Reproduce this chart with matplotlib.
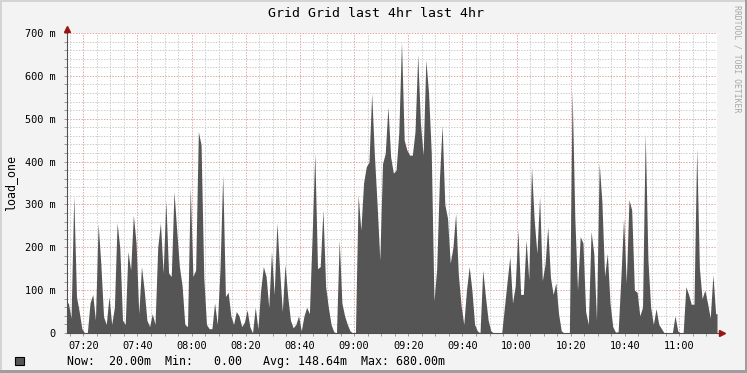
import numpy as np
import matplotlib
matplotlib.use("Agg")
import matplotlib.pyplot as plt
from matplotlib.patches import Rectangle
from matplotlib.lines import Line2D

# ---------------- data ----------------
title = "Grid Grid last 4hr last 4hr"
y_axis_label = "load_one"
start_time = "07:14"
step_minutes = 1
load_one_m = [
    70, 35, 320, 85, 50, 10, 0, 0, 70, 90,
    30, 255, 160, 38, 20, 85, 20, 60, 257, 198,
    30, 20, 190, 147, 275, 210, 45, 155, 100, 30,
    15, 45, 20, 200, 257, 140, 310, 140, 132, 330,
    240, 155, 110, 20, 15, 341, 132, 147, 470, 439,
    130, 20, 10, 10, 70, 20, 150, 369, 85, 95,
    40, 20, 50, 40, 15, 25, 54, 15, 0, 60,
    10, 100, 155, 132, 60, 190, 90, 257, 147, 50,
    160, 85, 30, 12, 20, 40, 5, 40, 60, 45,
    225, 420, 150, 155, 287, 108, 60, 20, 3, 0,
    217, 70, 40, 20, 5, 0, 0, 322, 240, 350,
    388, 399, 559, 415, 300, 170, 395, 419, 528, 411,
    373, 380, 466, 680, 450, 427, 415, 415, 470, 649,
    489, 415, 637, 560, 420, 75, 150, 357, 485, 300,
    268, 163, 200, 279, 136, 65, 20, 100, 155, 100,
    20, 5, 0, 147, 85, 30, 5, 0, 0, 0,
    0, 60, 120, 178, 70, 110, 241, 90, 90, 217,
    124, 388, 264, 186, 318, 122, 160, 248, 130, 90,
    117, 45, 5, 0, 0, 0, 567, 268, 100, 225,
    210, 50, 20, 237, 186, 30, 396, 306, 132, 186,
    70, 15, 2, 3, 128, 268, 117, 311, 287, 100,
    95, 40, 60, 466, 170, 60, 20, 57, 20, 10,
    0, 0, 0, 0, 40, 5, 0, 0, 108, 90,
    67, 67, 431, 151, 80, 100, 70, 35, 136, 45,
]
x_tick_labels = ["07:20", "07:40", "08:00", "08:20", "08:40", "09:00",
                 "09:20", "09:40", "10:00", "10:20", "10:40", "11:00"]
y_tick_values = [0, 100, 200, 300, 400, 500, 600, 700]
y_tick_labels = ["0", "100 m", "200 m", "300 m", "400 m", "500 m", "600 m", "700 m"]
legend_text = "Now:  20.00m  Min:   0.00   Avg: 148.64m  Max: 680.00m"
watermark = "RRDTOOL / TOBI OETIKER"
window_minutes = 240


def to_min(s):
    h, m = s.split(":")
    return int(h) * 60 + int(m)


W, H = 747, 373
MONO = "DejaVu Sans Mono"
fig = plt.figure(figsize=(W / 100, H / 100), dpi=100, facecolor="#F3F3F3")

# frame shading
fig.add_artist(Rectangle((0, 0), 2 / W, 1, transform=fig.transFigure, color="#D4D4D4", lw=0))
fig.add_artist(Rectangle((0, 1 - 2 / H), 1, 2 / H, transform=fig.transFigure, color="#D4D4D4", lw=0))
fig.add_artist(Rectangle((1 - 2 / W, 0), 2 / W, 1, transform=fig.transFigure, color="#9E9E9E", lw=0))
fig.add_artist(Rectangle((0, 0), 1, 3 / H, transform=fig.transFigure, color="#9E9E9E", lw=0))

ax = fig.add_axes([67 / W, 40 / H, 650 / W, 300 / H])
ax.set_facecolor("white")

t0 = to_min(start_time)
vals = np.asarray(load_one_m, dtype=float)
t = t0 + (np.arange(len(vals)) + 0.5) * step_minutes
t = np.concatenate([[t0], t, [t0 + window_minutes]])
v = np.concatenate([[vals[0]], vals, [vals[-1]]])
ax.fill_between(t, v, 0, color="#555555", lw=0, zorder=2)

ax.set_xlim(t0, t0 + window_minutes)
ax.set_ylim(0, 700)

major_x = [to_min(s) for s in x_tick_labels]
ax.set_xticks(major_x)
ax.set_xticklabels(x_tick_labels, fontfamily=MONO, fontsize=7.4)
ax.set_xticks(np.arange(t0 - t0 % 5 + 5, t0 + window_minutes, 5), minor=True)
ax.set_yticks(y_tick_values)
ax.set_yticklabels(y_tick_labels, fontfamily=MONO, fontsize=7.4)
ax.set_yticks(np.arange(0, 701, 20), minor=True)

ax.set_axisbelow(True)
ax.grid(which="minor", color="#CCCCCC", linestyle=(0, (1.4, 1.4)), linewidth=0.72)
ax.grid(which="major", color="#E8A4A4", linestyle=(0, (1.4, 1.4)), linewidth=0.72)

ax.tick_params(which="both", direction="out", length=2.2, width=0.7, color="#9A9A9A")
ax.tick_params(axis="x", which="major", pad=3.5)
ax.tick_params(axis="y", which="major", pad=6)

for s in ("top", "right"):
    ax.spines[s].set_visible(False)
for s in ("left", "bottom"):
    ax.spines[s].set_color("#505050")
    ax.spines[s].set_linewidth(0.8)
    ax.spines[s].set_zorder(3)

# axis arrows
ax.add_line(Line2D([1, 1 + 5 / 650], [0, 0], transform=ax.transAxes, color="#505050",
                   lw=0.8, clip_on=False))
ax.plot([0], [1 + 4 / 300], marker="^", markersize=4.5, color="#9A1414",
        transform=ax.transAxes, clip_on=False, zorder=5)
ax.plot([1 + 5 / 650], [0], marker=">", markersize=4.5, color="#9A1414",
        transform=ax.transAxes, clip_on=False, zorder=5)

# texts
fig.text(376 / W, 1 - 13.5 / H, title, ha="center", va="center", fontsize=9.5, family=MONO)
fig.text(11 / W, 1 - 183 / H, y_axis_label, rotation=90, ha="center", va="center",
         fontsize=8.4, family=MONO)
fig.text(737.5 / W, 1 - 59 / H, watermark, rotation=270, ha="center", va="center",
         fontsize=5.9, family=MONO, color="#A8A8A8")

fig.add_artist(Rectangle((15 / W, 1 - 365 / H), 9 / W, 8 / H, transform=fig.transFigure,
                         facecolor="#555555", edgecolor="black", lw=0.8))
fig.text(67 / W, 1 - 361 / H, legend_text, ha="left", va="center", fontsize=8.4, family=MONO)

fig.savefig("out.png", dpi=100, facecolor=fig.get_facecolor())
